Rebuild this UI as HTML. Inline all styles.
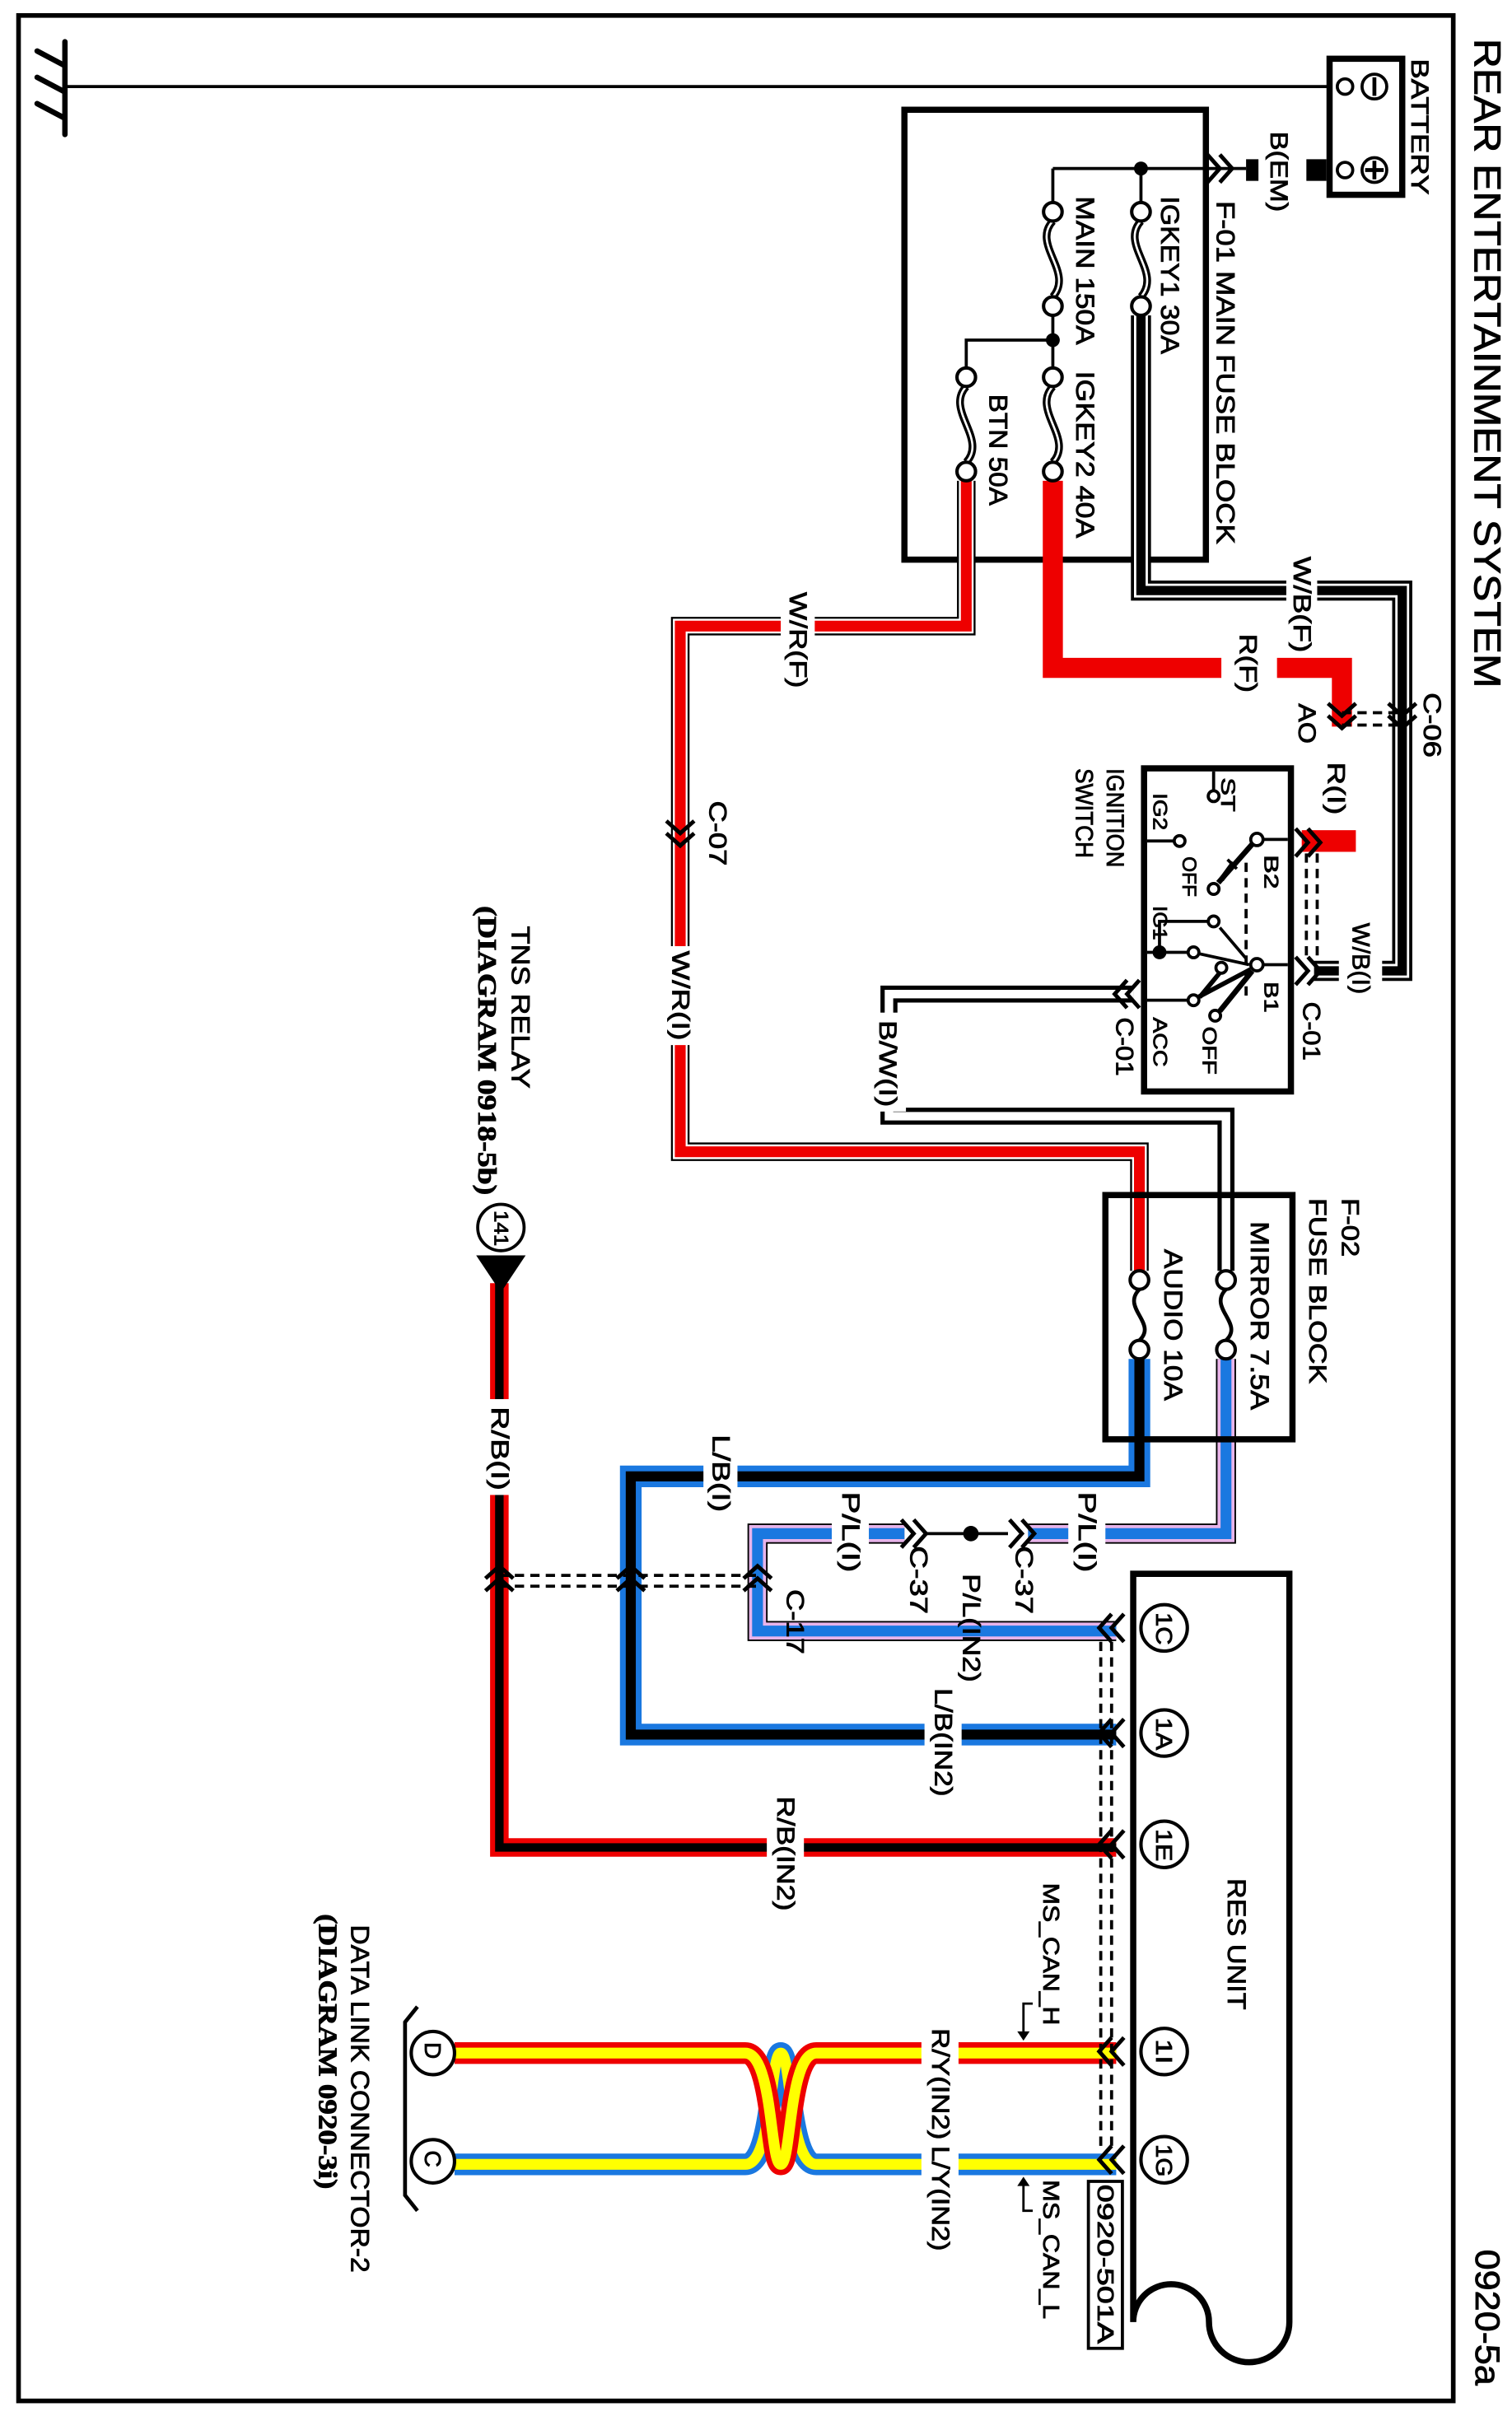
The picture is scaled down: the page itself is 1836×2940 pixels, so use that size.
<!DOCTYPE html>
<html><head><meta charset="utf-8"><style>
html,body{margin:0;padding:0;background:#fff;}
svg{display:block;}
text{font-family:"Liberation Sans",Arial,sans-serif;fill:#000;stroke:#000;stroke-width:0.45;}
.s{font-family:"Liberation Serif",serif;font-weight:bold;}
</style></head><body>
<svg width="1836" height="2940" viewBox="0 0 978 1566" preserveAspectRatio="none" xmlns="http://www.w3.org/2000/svg">
<defs>
<g id="chd" fill="none" stroke="#000" stroke-width="2.6"><polyline points="-9,-9 0,-1 9,-9"/><polyline points="-9,-1 0,7 9,-1"/></g>
<g id="chl" fill="none" stroke="#000" stroke-width="2.6"><polyline points="9,-9 1,0 9,9"/><polyline points="1,-9 -7,0 1,9"/></g>
</defs>
<rect x="0" y="0" width="978" height="1566" fill="#fff"/>
<rect x="12" y="10" width="928" height="1543" fill="none" stroke="#000" stroke-width="3"/>

<g stroke="#000" stroke-width="3.5" stroke-linecap="round">
<line x1="42" y1="27" x2="42" y2="87"/>
<line x1="24" y1="33" x2="41" y2="42"/><line x1="24" y1="50" x2="41" y2="59"/><line x1="24" y1="67" x2="41" y2="76"/>
</g>
<line x1="42" y1="56" x2="865" y2="56" stroke="#000" stroke-width="2"/>

<rect x="860" y="38" width="47" height="88" fill="#fff" stroke="#000" stroke-width="4"/>
<circle cx="870" cy="56" r="5" fill="#fff" stroke="#000" stroke-width="2"/>
<circle cx="870" cy="110" r="5" fill="#fff" stroke="#000" stroke-width="2"/>
<circle cx="889" cy="56" r="8" fill="none" stroke="#000" stroke-width="2"/><line x1="889" y1="50" x2="889" y2="62" stroke="#000" stroke-width="2.5"/>
<circle cx="889" cy="110" r="8" fill="none" stroke="#000" stroke-width="2"/><line x1="889" y1="104" x2="889" y2="116" stroke="#000" stroke-width="2.5"/><line x1="883" y1="110" x2="895" y2="110" stroke="#000" stroke-width="2.5"/>
<rect x="845" y="103" width="13" height="14" fill="#000"/>
<rect x="806" y="103" width="8" height="14" fill="#000"/>
<line x1="681" y1="109" x2="806" y2="109" stroke="#000" stroke-width="2"/>
<use href="#chl" transform="translate(790,109) rotate(180)"/>

<rect x="585" y="71" width="195" height="291" fill="none" stroke="#000" stroke-width="4"/>
<circle cx="738" cy="109" r="4.5" fill="#000"/>
<g stroke="#000" stroke-width="2" fill="none">
<line x1="738" y1="109" x2="738" y2="131"/>
<line x1="681" y1="109" x2="681" y2="131"/>
<line x1="681" y1="204" x2="681" y2="238"/>
<polyline points="681,220 625,220 625,238"/>
</g>
<circle cx="681" cy="220" r="4.5" fill="#000"/>
<g fill="none">
<g stroke="#000" stroke-width="5">
<path d="M738,143 C724,158 752,176 738,192"/><path d="M681,143 C667,158 695,176 681,192"/>
<path d="M681,250 C667,265 695,284 681,299"/><path d="M625,250 C611,265 639,284 625,299"/>
</g>
<g stroke="#000" stroke-width="2.5">
<path d="M737,834 C725,846 749,856 737,867"/><path d="M793,834 C781,846 805,856 793,867"/>
</g>
<g stroke="#fff" stroke-width="1.4">
<path d="M738,143 C724,158 752,176 738,192"/><path d="M681,143 C667,158 695,176 681,192"/>
<path d="M681,250 C667,265 695,284 681,299"/><path d="M625,250 C611,265 639,284 625,299"/>
</g>
</g>

<g fill="none" stroke-linejoin="miter">
<path d="M738,204 V382 H907 V628 H850" stroke="#000" stroke-width="13"/>
<path d="M738,204 V382 H907 V628 H850" stroke="#fff" stroke-width="9"/>
<path d="M738,204 V382 H907 V628 H850" stroke="#000" stroke-width="6"/>
<path d="M681,311 V432 H868 V470" stroke="#e00" stroke-width="13"/>
<rect x="842" y="537" width="35" height="14" fill="#e00" stroke="none"/>
<path d="M625,311 V405 H440 V745 H737 V822" stroke="#000" stroke-width="12"/>
<path d="M625,311 V405 H440 V745 H737 V822" stroke="#fff" stroke-width="9.5"/>
<path d="M625,311 V405 H440 V745 H737 V822" stroke="#e00" stroke-width="7"/>
<path d="M733,643 H575 V722 H793 V822" stroke="#000" stroke-width="11"/>
<path d="M733,643 H575 V722 H793 V822" stroke="#fff" stroke-width="5.5"/>
<path d="M737,879 V955 H408 V1122 H722" stroke="#1a78e0" stroke-width="14"/>
<path d="M737,879 V955 H408 V1122 H722" stroke="#000" stroke-width="6.5"/>
<path d="M793,879 V992 H665 M585,992 H490 V1055 H722" stroke="#000" stroke-width="13"/>
<path d="M793,879 V992 H665 M585,992 H490 V1055 H722" stroke="#e7b4ea" stroke-width="11"/>
<path d="M793,879 V992 H665 M585,992 H490 V1055 H722" stroke="#1a78e0" stroke-width="7"/>
<line x1="598" y1="992" x2="652" y2="992" stroke="#000" stroke-width="2"/>
<path d="M323,830 V1195 H722" stroke="#e00" stroke-width="12"/>
<path d="M323,830 V1195 H722" stroke="#000" stroke-width="5.5"/>
<path d="M722,1400 H528 C510,1400 512,1328 505,1328 C498,1328 500,1400 482,1400 H294" stroke="#1a78e0" stroke-width="14"/>
<path d="M722,1400 H528 C510,1400 512,1328 505,1328 C498,1328 500,1400 482,1400 H294" stroke="#ff0" stroke-width="7"/>
<path d="M722,1328 H528 C510,1328 512,1400 505,1400 C498,1400 500,1328 482,1328 H294" stroke="#e00" stroke-width="14"/>
<path d="M722,1328 H528 C510,1328 512,1400 505,1400 C498,1400 500,1328 482,1328 H294" stroke="#ff0" stroke-width="7"/>
</g>
<circle cx="628" cy="992" r="5" fill="#000"/>

<g fill="#fff">
<rect x="832" y="355" width="20" height="70"/>
<rect x="790" y="420" width="36" height="30"/>
<rect x="505" y="380" width="22" height="68"/>
<rect x="428" y="612" width="24" height="64"/>
<rect x="562" y="655" width="24" height="64"/>
<rect x="455" y="925" width="22" height="58"/>
<rect x="691" y="962" width="24" height="60"/>
<rect x="538" y="962" width="24" height="60"/>
<rect x="311" y="905" width="24" height="62"/>
<rect x="598" y="1088" width="24" height="74"/>
<rect x="496" y="1160" width="24" height="80"/>
<rect x="596" y="1308" width="24" height="150"/>
<rect x="866" y="594" width="28" height="50"/>
</g>

<line x1="868" y1="461" x2="907" y2="461" stroke="#000" stroke-width="2" stroke-dasharray="6,4"/>
<line x1="868" y1="469" x2="907" y2="469" stroke="#000" stroke-width="2" stroke-dasharray="6,4"/>
<use href="#chd" transform="translate(868,464)"/>
<use href="#chd" transform="translate(907,464)"/>
<use href="#chd" transform="translate(440,540)"/>

<rect x="740" y="497" width="95" height="209" fill="#fff" stroke="#000" stroke-width="4"/>
<g stroke="#000" stroke-width="2" fill="none">
<line x1="785" y1="499" x2="785" y2="511"/>
<line x1="742" y1="544" x2="759" y2="544"/>
<line x1="817" y1="543" x2="833" y2="543"/>
<line x1="810" y1="546" x2="788" y2="571" stroke-width="3.5"/>
<line x1="798" y1="558" x2="790" y2="569" stroke-width="3.5"/>
<line x1="742" y1="616" x2="768" y2="616"/>
<polyline points="750,616 750,596 781,596"/>
<line x1="817" y1="624" x2="833" y2="624"/>
<line x1="742" y1="647" x2="768" y2="647"/>
<line x1="806" y1="558" x2="806" y2="645" stroke-dasharray="6,4"/>
<line x1="789" y1="600" x2="806" y2="620"/>
<line x1="776" y1="617" x2="808" y2="624"/>
<line x1="809" y1="627" x2="775" y2="645" stroke-width="3"/>
<line x1="810" y1="628" x2="789" y2="654" stroke-width="3.5"/>
<line x1="790" y1="628" x2="776" y2="645" stroke-width="3"/>
<line x1="794" y1="556" x2="800" y2="562"/>
</g>
<circle cx="750" cy="616" r="4.5" fill="#000"/>
<g fill="#fff" stroke="#000" stroke-width="2">
<circle cx="785" cy="515" r="3.5"/><circle cx="763" cy="544" r="3.5"/><circle cx="813" cy="543" r="4"/>
<circle cx="785" cy="575" r="3.5"/><circle cx="785" cy="596" r="3.5"/><circle cx="772" cy="616" r="3.5"/>
<circle cx="790" cy="626" r="3.5"/><circle cx="813" cy="624" r="4"/><circle cx="772" cy="647" r="3.5"/><circle cx="786" cy="657" r="3.5"/>
</g>
<line x1="845" y1="552" x2="845" y2="620" stroke="#000" stroke-width="2" stroke-dasharray="6,4"/>
<line x1="852" y1="552" x2="852" y2="620" stroke="#000" stroke-width="2" stroke-dasharray="6,4"/>
<use href="#chl" transform="translate(847,545) rotate(180)"/>
<use href="#chl" transform="translate(847,628) rotate(180)"/>
<use href="#chl" transform="translate(728,643)"/>

<rect x="715" y="773" width="121" height="158" fill="none" stroke="#000" stroke-width="4"/>

<g fill="#fff" stroke="#000" stroke-width="2.2">
<circle cx="738" cy="137" r="6"/><circle cx="738" cy="198" r="6"/>
<circle cx="681" cy="137" r="6"/><circle cx="681" cy="198" r="6"/>
<circle cx="681" cy="244" r="6"/><circle cx="681" cy="305" r="6"/>
<circle cx="625" cy="244" r="6"/><circle cx="625" cy="305" r="6"/>
<circle cx="737" cy="828" r="6"/><circle cx="737" cy="873" r="6"/>
<circle cx="793" cy="828" r="6"/><circle cx="793" cy="873" r="6"/>
</g>

<line x1="323" y1="1019" x2="490" y2="1019" stroke="#000" stroke-width="2" stroke-dasharray="6,4"/>
<line x1="323" y1="1026" x2="490" y2="1026" stroke="#000" stroke-width="2" stroke-dasharray="6,4"/>
<use href="#chd" transform="translate(323,1020) rotate(180)"/>
<use href="#chd" transform="translate(408,1020) rotate(180)"/>
<use href="#chd" transform="translate(490,1020) rotate(180)"/>
<use href="#chl" transform="translate(662,992) rotate(180)"/>
<use href="#chl" transform="translate(592,992) rotate(180)"/>

<circle cx="324" cy="794" r="15" fill="#fff" stroke="#000" stroke-width="2"/>
<polygon points="308,812 340,812 324,836" fill="#000"/>

<path d="M733,1502 V1018 H834 V1502 A26 26 0 0 1 782,1502 A24.5 24.5 0 0 0 733,1502" fill="none" stroke="#000" stroke-width="4"/>
<line x1="712" y1="1062" x2="712" y2="1392" stroke="#000" stroke-width="2" stroke-dasharray="6,4"/>
<line x1="719" y1="1062" x2="719" y2="1392" stroke="#000" stroke-width="2" stroke-dasharray="6,4"/>
<g fill="#fff" stroke="#000" stroke-width="2.2">
<circle cx="753" cy="1053" r="15"/><circle cx="753" cy="1121" r="15"/><circle cx="753" cy="1193" r="15"/>
<circle cx="753" cy="1327" r="15"/><circle cx="753" cy="1397" r="15"/>
<circle cx="280" cy="1328" r="14"/><circle cx="280" cy="1398" r="14"/>
</g>
<use href="#chl" transform="translate(718,1053)"/>
<use href="#chl" transform="translate(718,1121)"/>
<use href="#chl" transform="translate(718,1193)"/>
<use href="#chl" transform="translate(718,1327)"/>
<use href="#chl" transform="translate(718,1397)"/>
<rect x="704" y="1411" width="22" height="108" fill="#fff" stroke="#000" stroke-width="2"/>
<path d="M270,1298 L262,1308 V1420 L270,1430" fill="none" stroke="#000" stroke-width="2.5"/>
<g stroke="#000" stroke-width="1.5" fill="none">
<polyline points="668,1296 662,1296 662,1316"/><polyline points="668,1430 662,1430 662,1412"/>
</g>
<polygon points="658,1314 666,1314 662,1320" fill="#000"/>
<polygon points="658,1414 666,1414 662,1408" fill="#000"/>

<g dominant-baseline="central">
<text transform="translate(962,25) rotate(90)" font-size="24" textLength="420" lengthAdjust="spacingAndGlyphs">REAR ENTERTAINMENT SYSTEM</text>
<text transform="translate(962,1455) rotate(90)" font-size="22" textLength="88" lengthAdjust="spacingAndGlyphs">0920-5a</text>
<text transform="translate(918,38) rotate(90)" font-size="16" textLength="88" lengthAdjust="spacingAndGlyphs">BATTERY</text>
<text transform="translate(827,85) rotate(90)" font-size="16" textLength="52" lengthAdjust="spacingAndGlyphs">B(EM)</text>
<text transform="translate(793,130) rotate(90)" font-size="17" textLength="222" lengthAdjust="spacingAndGlyphs">F-01 MAIN FUSE BLOCK</text>
<text transform="translate(757,127) rotate(90)" font-size="17" textLength="102" lengthAdjust="spacingAndGlyphs">IGKEY1 30A</text>
<text transform="translate(702,127) rotate(90)" font-size="17" textLength="96" lengthAdjust="spacingAndGlyphs">MAIN 150A</text>
<text transform="translate(702,240) rotate(90)" font-size="17" textLength="108" lengthAdjust="spacingAndGlyphs">IGKEY2 40A</text>
<text transform="translate(646,255) rotate(90)" font-size="17" textLength="72" lengthAdjust="spacingAndGlyphs">BTN 50A</text>
<text transform="translate(842,360) rotate(90)" font-size="16" textLength="62" lengthAdjust="spacingAndGlyphs">W/B(F)</text>
<text transform="translate(807,410) rotate(90)" font-size="16" textLength="38" lengthAdjust="spacingAndGlyphs">R(F)</text>
<text transform="translate(845,455) rotate(90)" font-size="16" textLength="26" lengthAdjust="spacingAndGlyphs">AO</text>
<text transform="translate(926,448) rotate(90)" font-size="16" textLength="42" lengthAdjust="spacingAndGlyphs">C-06</text>
<text transform="translate(864,493) rotate(90)" font-size="16" textLength="34" lengthAdjust="spacingAndGlyphs">R(I)</text>
<text transform="translate(516,383) rotate(90)" font-size="16" textLength="62" lengthAdjust="spacingAndGlyphs">W/R(F)</text>
<text transform="translate(464,518) rotate(90)" font-size="16" textLength="42" lengthAdjust="spacingAndGlyphs">C-07</text>
<text transform="translate(440,615) rotate(90)" font-size="16" textLength="58" lengthAdjust="spacingAndGlyphs">W/R(I)</text>
<text transform="translate(574,660) rotate(90)" font-size="16" textLength="56" lengthAdjust="spacingAndGlyphs">B/W(I)</text>
<text transform="translate(880,597) rotate(90)" font-size="16" textLength="46" lengthAdjust="spacingAndGlyphs">W/B(I)</text>
<text transform="translate(848,648) rotate(90)" font-size="16" textLength="38" lengthAdjust="spacingAndGlyphs">C-01</text>
<text transform="translate(727,658) rotate(90)" font-size="16" textLength="38" lengthAdjust="spacingAndGlyphs">C-01</text>
<text transform="translate(794,503) rotate(90)" font-size="13" textLength="22" lengthAdjust="spacingAndGlyphs">ST</text>
<text transform="translate(750,513) rotate(90)" font-size="13" textLength="24" lengthAdjust="spacingAndGlyphs">IG2</text>
<text transform="translate(769,554) rotate(90)" font-size="13" textLength="26" lengthAdjust="spacingAndGlyphs">OFF</text>
<text transform="translate(822,553) rotate(90)" font-size="13" textLength="22" lengthAdjust="spacingAndGlyphs">B2</text>
<text transform="translate(750,586) rotate(90)" font-size="13" textLength="22" lengthAdjust="spacingAndGlyphs">IG1</text>
<text transform="translate(822,635) rotate(90)" font-size="13" textLength="20" lengthAdjust="spacingAndGlyphs">B1</text>
<text transform="translate(750,658) rotate(90)" font-size="13" textLength="32" lengthAdjust="spacingAndGlyphs">ACC</text>
<text transform="translate(782,664) rotate(90)" font-size="13" textLength="31" lengthAdjust="spacingAndGlyphs">OFF</text>
<text transform="translate(721,497) rotate(90)" font-size="16" textLength="64" lengthAdjust="spacingAndGlyphs">IGNITION</text>
<text transform="translate(701,497) rotate(90)" font-size="16" textLength="58" lengthAdjust="spacingAndGlyphs">SWITCH</text>
<text transform="translate(873,775) rotate(90)" font-size="16" textLength="38" lengthAdjust="spacingAndGlyphs">F-02</text>
<text transform="translate(852,775) rotate(90)" font-size="16" textLength="120" lengthAdjust="spacingAndGlyphs">FUSE BLOCK</text>
<text transform="translate(815,790) rotate(90)" font-size="17" textLength="122" lengthAdjust="spacingAndGlyphs">MIRROR 7.5A</text>
<text transform="translate(759,808) rotate(90)" font-size="17" textLength="98" lengthAdjust="spacingAndGlyphs">AUDIO 10A</text>
<text transform="translate(466,928) rotate(90)" font-size="16" textLength="50" lengthAdjust="spacingAndGlyphs">L/B(I)</text>
<text transform="translate(703,965) rotate(90)" font-size="16" textLength="52" lengthAdjust="spacingAndGlyphs">P/L(I)</text>
<text transform="translate(550,965) rotate(90)" font-size="16" textLength="52" lengthAdjust="spacingAndGlyphs">P/L(I)</text>
<text transform="translate(662,1000) rotate(90)" font-size="16" textLength="44" lengthAdjust="spacingAndGlyphs">C-37</text>
<text transform="translate(594,1000) rotate(90)" font-size="16" textLength="44" lengthAdjust="spacingAndGlyphs">C-37</text>
<text transform="translate(628,1018) rotate(90)" font-size="16" textLength="70" lengthAdjust="spacingAndGlyphs">P/L(IN2)</text>
<text transform="translate(514,1028) rotate(90)" font-size="16" textLength="42" lengthAdjust="spacingAndGlyphs">C-17</text>
<text transform="translate(610,1092) rotate(90)" font-size="16" textLength="70" lengthAdjust="spacingAndGlyphs">L/B(IN2)</text>
<text transform="translate(323,910) rotate(90)" font-size="16" textLength="54" lengthAdjust="spacingAndGlyphs">R/B(I)</text>
<text transform="translate(508,1162) rotate(90)" font-size="16" textLength="74" lengthAdjust="spacingAndGlyphs">R/B(IN2)</text>
<text transform="translate(337,599) rotate(90)" font-size="17" textLength="105" lengthAdjust="spacingAndGlyphs">TNS RELAY</text>
<text class="s" transform="translate(315,586) rotate(90)" font-size="17" textLength="187" lengthAdjust="spacingAndGlyphs">(DIAGRAM 0918-5b)</text>
<text transform="translate(324,783) rotate(90)" font-size="13" textLength="23" lengthAdjust="spacingAndGlyphs">141</text>
<text transform="translate(753,1043) rotate(90)" font-size="15" textLength="21" lengthAdjust="spacingAndGlyphs">1C</text>
<text transform="translate(753,1111) rotate(90)" font-size="15" textLength="21" lengthAdjust="spacingAndGlyphs">1A</text>
<text transform="translate(753,1183) rotate(90)" font-size="15" textLength="21" lengthAdjust="spacingAndGlyphs">1E</text>
<text transform="translate(753,1319) rotate(90)" font-size="15" textLength="16" lengthAdjust="spacingAndGlyphs">1I</text>
<text transform="translate(753,1387) rotate(90)" font-size="15" textLength="21" lengthAdjust="spacingAndGlyphs">1G</text>
<text transform="translate(280,1321) rotate(90)" font-size="15">D</text>
<text transform="translate(280,1391) rotate(90)" font-size="15">C</text>
<text transform="translate(800,1215) rotate(90)" font-size="17" textLength="85" lengthAdjust="spacingAndGlyphs">RES UNIT</text>
<text transform="translate(715,1413) rotate(90)" font-size="15" textLength="103" lengthAdjust="spacingAndGlyphs">0920-501A</text>
<text transform="translate(680,1218) rotate(90)" font-size="15" textLength="92" lengthAdjust="spacingAndGlyphs">MS_CAN_H</text>
<text transform="translate(680,1410) rotate(90)" font-size="15" textLength="90" lengthAdjust="spacingAndGlyphs">MS_CAN_L</text>
<text transform="translate(608,1312) rotate(90)" font-size="16" textLength="72" lengthAdjust="spacingAndGlyphs">R/Y(IN2)</text>
<text transform="translate(608,1388) rotate(90)" font-size="16" textLength="68" lengthAdjust="spacingAndGlyphs">L/Y(IN2)</text>
<text transform="translate(233,1245) rotate(90)" font-size="17" textLength="225" lengthAdjust="spacingAndGlyphs">DATA LINK CONNECTOR-2</text>
<text class="s" transform="translate(212,1238) rotate(90)" font-size="17" textLength="178" lengthAdjust="spacingAndGlyphs">(DIAGRAM 0920-3i)</text>
</g>
</svg>
</body></html>
